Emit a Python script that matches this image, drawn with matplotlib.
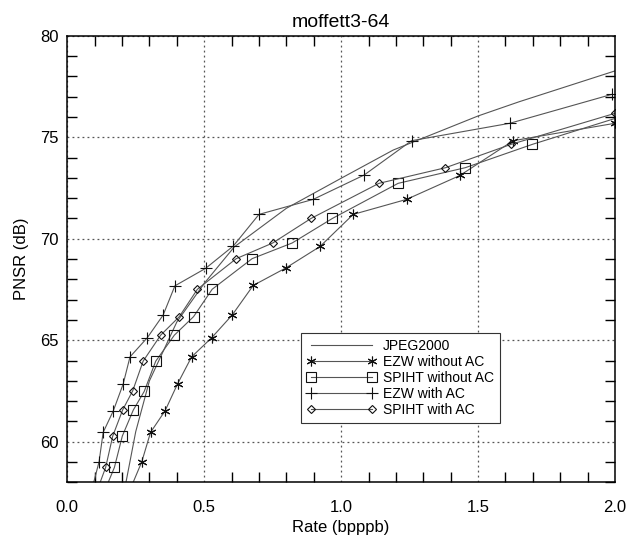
import numpy as np
import matplotlib.pyplot as plt
from matplotlib.ticker import MultipleLocator

plt.rcParams['font.family'] = ['Liberation Sans', 'DejaVu Sans']

# rate (bpppb) / PSNR (dB) pairs for each coder
jpeg_rate = [0.20, 0.25, 0.30, 0.40, 0.50, 0.61, 0.80, 1.00, 1.19, 1.50, 1.65, 2.00]
jpeg_psnr = [57.0, 60.5, 63.0, 65.9, 67.8, 69.6, 71.5, 72.98, 74.37, 76.05, 76.75, 78.27]

ezw_rate = [0.225, 0.272, 0.304, 0.357, 0.403, 0.454, 0.527, 0.602, 0.679,
            0.798, 0.923, 1.044, 1.239, 1.434, 1.628, 2.0]
ezw_psnr = [57.5, 59.01, 60.46, 61.52, 62.86, 64.18, 65.12, 66.24, 67.70,
            68.56, 69.62, 71.20, 71.94, 73.12, 74.83, 75.69]

spiht_rate = [0.128, 0.172, 0.201, 0.241, 0.281, 0.323, 0.391, 0.461, 0.529,
              0.675, 0.821, 0.968, 1.208, 1.453, 1.698, 2.06]
spiht_psnr = [57.3, 58.73, 60.28, 61.56, 62.48, 63.97, 65.25, 66.16, 67.51,
              69.02, 69.79, 71.00, 72.73, 73.50, 74.65, 76.18]

ezw_ac_rate = [0.087, 0.116, 0.131, 0.168, 0.204, 0.229, 0.292, 0.350, 0.393,
               0.505, 0.606, 0.700, 0.898, 1.084, 1.257, 1.616, 1.99]
ezw_ac_psnr = [57.5, 59.01, 60.46, 61.52, 62.84, 64.18, 65.12, 66.24, 67.68,
               68.54, 69.64, 71.20, 71.94, 73.14, 74.83, 75.69, 77.12]

spiht_ac_rate = [0.101, 0.140, 0.166, 0.202, 0.239, 0.277, 0.341, 0.409, 0.475,
                 0.617, 0.750, 0.890, 1.138, 1.381, 1.620, 2.0]
spiht_ac_psnr = [57.3, 58.73, 60.28, 61.56, 62.51, 63.97, 65.25, 66.16, 67.51,
                 69.02, 69.79, 71.00, 72.73, 73.50, 74.65, 76.18]

fig = plt.figure(figsize=(6.30, 5.39), dpi=100)
ax = fig.add_axes([0.1068, 0.1052, 0.8694, 0.8284])

line_kw = dict(color='#555555', lw=0.8, mec='#111111', mfc='none', mew=0.8)
ax.plot(jpeg_rate, jpeg_psnr, color='#555555', lw=0.8, label='JPEG2000')
ax.plot(ezw_rate, ezw_psnr, marker=(6, 2, 0), ms=7, label='EZW without AC', **line_kw)
ax.plot(spiht_rate, spiht_psnr, marker='s', ms=6.5, label='SPIHT without AC', **line_kw)
ax.plot(ezw_ac_rate, ezw_ac_psnr, marker='+', ms=8, label='EZW with AC', **line_kw)
ax.plot(spiht_ac_rate, spiht_ac_psnr, marker='D', ms=4.5, label='SPIHT with AC', **line_kw)

ax.set_xlim(0, 2.0)
ax.set_ylim(58, 80)
ax.xaxis.set_major_locator(MultipleLocator(0.5))
ax.xaxis.set_minor_locator(MultipleLocator(0.1))
ax.yaxis.set_major_locator(MultipleLocator(5))
ax.yaxis.set_minor_locator(MultipleLocator(1))
ax.tick_params(which='both', direction='in', top=True, right=True, labelsize=12)
ax.tick_params(which='major', length=0, pad=13)
ax.tick_params(which='minor', length=7, width=1)
ax.tick_params(axis='y', which='major', pad=6)
ax.xaxis.set_major_formatter(plt.FormatStrFormatter('%.1f'))
ax.grid(True, which='major', color='#555555', lw=0.9, linestyle=(0, (1.5, 2.5)))
for s in ax.spines.values():
    s.set_linewidth(1.1)

ax.set_title('moffett3-64', fontsize=14, pad=6)
ax.set_xlabel('Rate (bpppb)', fontsize=12, labelpad=3)
ax.set_ylabel('PNSR (dB)', fontsize=12, labelpad=8)

leg = ax.legend(loc='upper left', bbox_to_anchor=(0.427, 0.334), numpoints=2,
                handlelength=5.0, fontsize=10, fancybox=False, framealpha=1,
                edgecolor='#333333', borderpad=0.4, labelspacing=0.15,
                handletextpad=0.5, borderaxespad=0)
leg.get_frame().set_linewidth(0.8)

fig.savefig('out.png', dpi=100)
